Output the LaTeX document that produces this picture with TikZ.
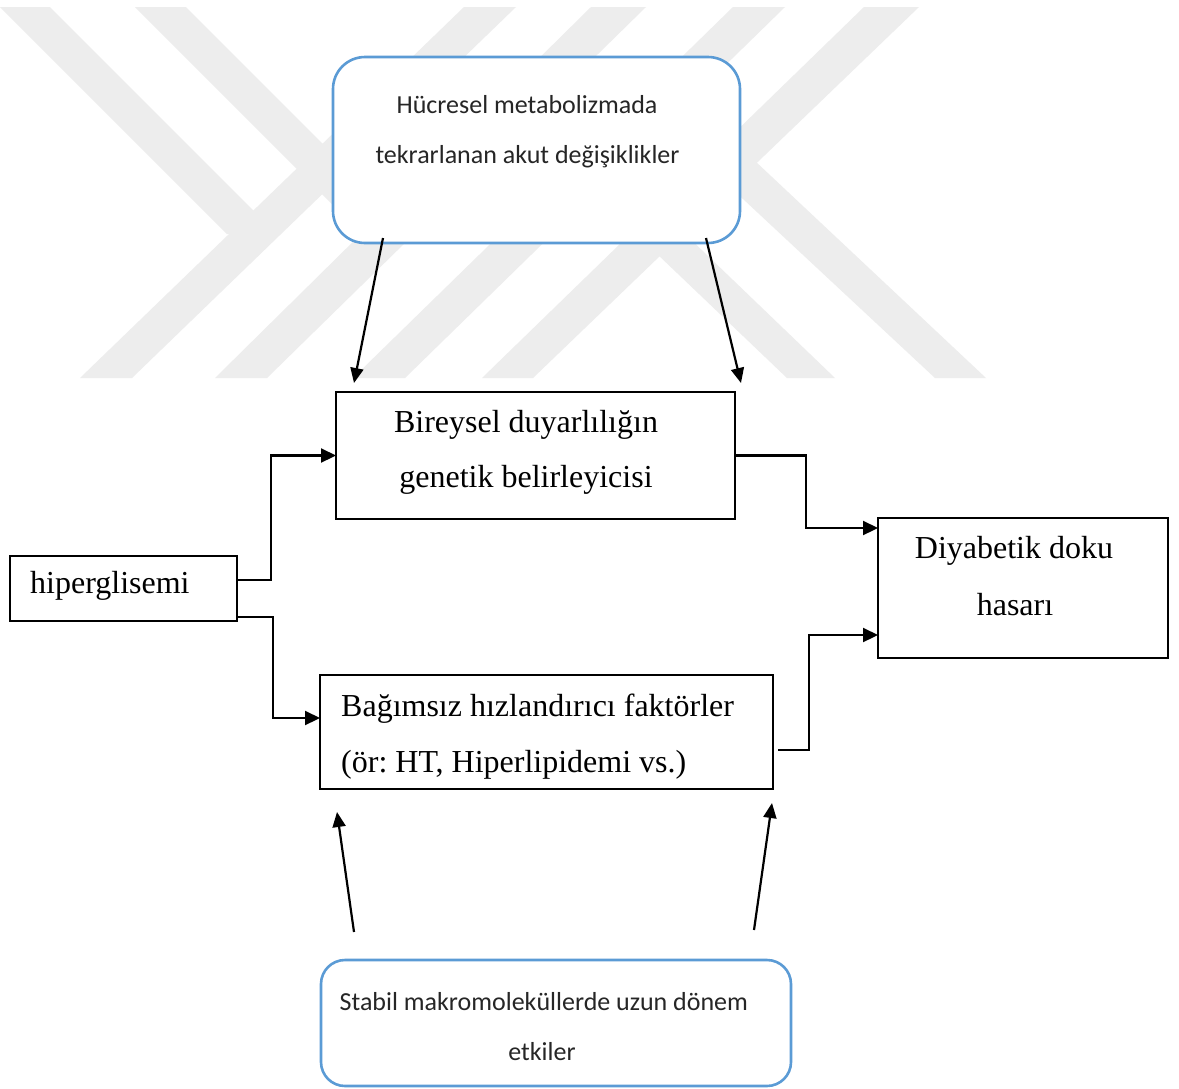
\documentclass[tikz,border=0pt]{standalone}
\usepackage{fontspec}
\setmainfont{Liberation Serif}
\newfontfamily\calibri{Carlito}
\usetikzlibrary{arrows.meta,calc}
\definecolor{wm}{RGB}{237,237,237}
\definecolor{boxblue}{RGB}{91,155,213}
\frenchspacing
\tikzset{
  plainbox/.style={draw=black, line width=1.6pt, rectangle, inner sep=0pt, outer sep=0pt, fill=white},
  bluebox/.style={draw=boxblue, line width=2.6pt, rectangle, inner sep=0pt, outer sep=0pt, fill=white},
  serif/.style={font=\fontsize{32}{36}\selectfont, inner sep=0pt, anchor=base},
  sans/.style={font=\calibri\fontsize{26}{30}\selectfont, text=black!85, inner sep=0pt, anchor=base},
  arr/.style={line width=2.2pt, -{Triangle[length=15pt,width=13pt]}},
  elbow/.style={line width=2.2pt, -{Triangle[length=15pt,width=14pt]}}
}
\begin{document}
\begin{tikzpicture}[x=1pt,y=-1pt]
\fill[white] (0,0) rectangle (1179,1088);
\useasboundingbox (0,0) rectangle (1179,1088);
% watermark
\begin{scope}
\clip (0,7) rectangle (1179,378);
\fill[wm] (0,7) -- (50,7) -- (278,235) -- (227,234) -- cycle;
\fill[wm] (135,7) -- (186,7) -- (411,232) -- (358,230) -- cycle;
\fill[wm] (464,7) -- (516,7) -- (132,378) -- (80,378) -- cycle;
\fill[wm] (591,7) -- (646,7) -- (267,378) -- (215,378) -- cycle;
\fill[wm] (733,7) -- (785,7) -- (405,378) -- (353,378) -- cycle;
\fill[wm] (864,7) -- (919,7) -- (533,378) -- (482,378) -- cycle;
\fill[wm] (787,378) -- (835,378) -- (682,231) -- (655,252) -- cycle;
\fill[wm] (935,378) -- (986,378) -- (755,161) -- (728,185) -- cycle;
\end{scope}
% boxes
\node[bluebox, rounded corners=32pt, minimum width=407pt, minimum height=186pt] (top) at (536.5,150) {};
\node[plainbox, minimum width=399pt, minimum height=127pt] (bir) at (535.5,455.5) {};
\node[plainbox, minimum width=227pt, minimum height=65pt] (hip) at (123.5,588.5) {};
\node[plainbox, minimum width=453pt, minimum height=114pt] (bag) at (546.5,732) {};
\node[plainbox, minimum width=290pt, minimum height=140pt] (diy) at (1023,588) {};
\node[bluebox, rounded corners=24pt, minimum width=470pt, minimum height=126pt] (bot) at (556,1023) {};
% texts
\node[sans] (t1) at (527,113) {Hücresel metabolizmada};
\node[sans] (t2) at (527.5,163) {tekrarlanan akut değişiklikler};
\node[serif] (b1) at (526,432) {Bireysel duyarlılığın};
\node[serif] (b2) at (526,487) {genetik belirleyicisi};
\node[serif, anchor=base west] (h1) at (30,593) {hiperglisemi};
\node[serif, anchor=base west] (g1) at (341,716) {Bağımsız hızlandırıcı faktörler};
\node[serif, anchor=base west] (g2) at (341,772) {(ör: HT, Hiperlipidemi vs.)};
\node[serif] (d1) at (1014,558) {Diyabetik doku};
\node[serif] (d2) at (1015,615) {hasarı};
\node[sans, anchor=base west] (s1) at (339.5,1010) {Stabil makromoleküllerde uzun dönem};
\node[sans] (s2) at (542,1060) {etkiler};
% slanted arrows
\draw[arr] ([xshift=50pt,yshift=5pt]top.south west) -- ([xshift=18pt,yshift=9pt]bir.north west);
\draw[arr] ([xshift=-34pt,yshift=5pt]top.south east) -- ([xshift=6pt,yshift=9pt]bir.north east);
\draw[arr] ([xshift=33pt,yshift=28pt]bot.north west) -- ([xshift=17pt,yshift=-23pt]bag.south west);
\draw[arr] ([xshift=-37pt,yshift=30pt]bot.north east) -- ([xshift=-1pt,yshift=-14pt]bag.south east);
% elbow arrows
\draw[elbow] ([yshift=8.5pt]hip.east) -- ++(34,0) |- (bir.west);
\draw[elbow] ([yshift=-28.5pt]hip.east) -- ++(36,0) |- ([yshift=14pt]bag.west);
\draw[elbow] (bir.east) -- ++(71,0) |- ([yshift=60pt]diy.west);
\draw[elbow] ([xshift=5pt,yshift=-18pt]bag.east) -- ++(31,0) |- ([yshift=-47pt]diy.west);
\end{tikzpicture}
\end{document}
